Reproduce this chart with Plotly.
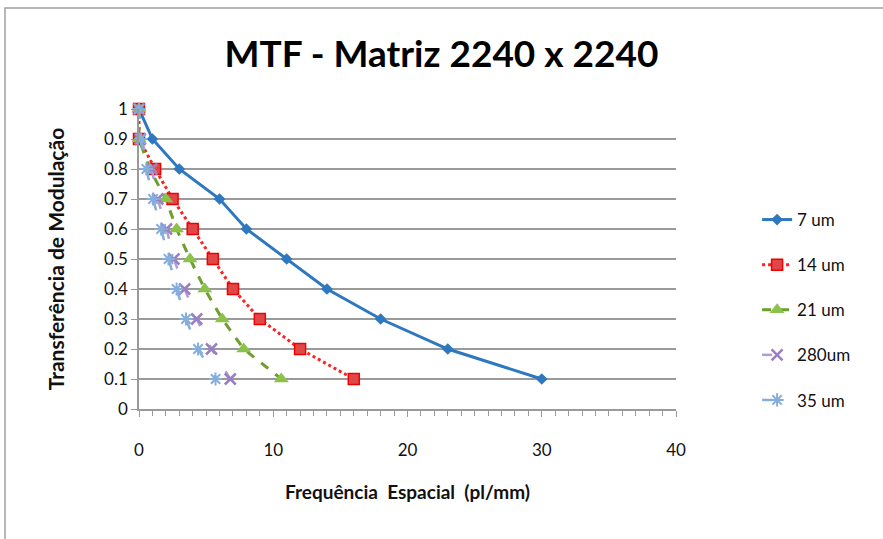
import plotly.graph_objects as go

# MTF values (modulation transfer) per spatial frequency for each pixel size
mtf_levels = [1.0, 0.9, 0.8, 0.7, 0.6, 0.5, 0.4, 0.3, 0.2, 0.1]

freq_7um = [0, 1, 3, 6, 8, 11, 14, 18, 23, 30]
freq_14um = [0, 0, 1.2, 2.5, 4, 5.5, 7, 9, 12, 16]
freq_21um = [0, 0, 0.8, 2, 2.8, 3.8, 4.9, 6.2, 7.8, 10.6]
freq_280um = [0, 0.1, 0.95, 1.4, 2.05, 2.6, 3.4, 4.3, 5.4, 6.8]
freq_35um = [0, 0.15, 0.55, 1.05, 1.65, 2.2, 2.8, 3.5, 4.4, 5.7]

series_names = ["7 um", "14 um", "21 um", "280um", "35 um"]

FONT = "Lato"

fig = go.Figure()

fig.add_trace(go.Scatter(
    x=freq_7um, y=mtf_levels, name=series_names[0], legendgroup="a",
    mode="lines+markers", cliponaxis=False,
    line=dict(color="#2E78C0", width=3),
    marker=dict(symbol="diamond", size=9, color="#2E78C0"),
))
fig.add_trace(go.Scatter(
    x=freq_14um, y=mtf_levels, name=series_names[1], legendgroup="b",
    mode="lines+markers", cliponaxis=False,
    line=dict(color="#FF2020", width=3, dash="dot"),
    marker=dict(symbol="square", size=11, color="#E04848",
                line=dict(color="#F00000", width=1.5)),
))
fig.add_trace(go.Scatter(
    x=freq_21um, y=mtf_levels, name=series_names[2], legendgroup="c",
    mode="lines+markers", cliponaxis=False,
    line=dict(color="#6E9E2E", width=3, dash="dash"),
    marker=dict(symbol="triangle-up", size=13, color="#8BC34A"),
))
fig.add_trace(go.Scatter(
    x=freq_280um, y=mtf_levels, name=series_names[3], legendgroup="d",
    mode="lines+markers", cliponaxis=False,
    line=dict(color="#B09CD0", width=2.5, dash="10px,21px"),
    marker=dict(symbol="x-thin", size=11, line=dict(color="#9B7FC4", width=2.5)),
))
fig.add_trace(go.Scatter(
    x=freq_35um, y=mtf_levels, name=series_names[4], legendgroup="e",
    mode="lines+markers", cliponaxis=False,
    line=dict(color="#86AEDC", width=2.5, dash="10px,21px"),
    marker=dict(symbol="asterisk-open", size=11, line=dict(color="#22B8D8", width=2)),
))

fig.update_layout(
    width=883, height=539,
    paper_bgcolor="white", plot_bgcolor="white",
    margin=dict(l=139, r=207, t=109, b=130),
    font=dict(family=FONT, color="#111111", size=17),
    title=dict(text="<b>MTF - Matriz 2240 x 2240</b>", x=0.5, xanchor="center",
               xref="container", y=0.9, yanchor="middle",
               font=dict(family=FONT, size=37, color="#000000")),
    xaxis=dict(
        range=[0, 40], tickvals=[0, 10, 20, 30, 40],
        showgrid=False, zeroline=False,
        showline=True, linecolor="#9A9A9A", linewidth=1.5,
        ticks="outside", ticklen=6, tickcolor="#9A9A9A",
        minor=dict(dtick=1, ticks="outside", ticklen=5, tickcolor="#9A9A9A"),
        tickfont=dict(size=17, color="#111111"),
        ticklabelstandoff=19,
        title=dict(text="<b>Frequência\u00a0 Espacial\u00a0 (pl/mm)</b>",
                   font=dict(size=19, color="#111111"), standoff=27),
    ),
    yaxis=dict(
        range=[0, 1], dtick=0.1,
        showgrid=True, gridcolor="#9A9A9A", gridwidth=1.5,
        zeroline=False,
        showline=True, linecolor="#9A9A9A", linewidth=1.5,
        ticks="outside", ticklen=6, tickcolor="#9A9A9A",
        tickfont=dict(size=17, color="#111111"),
        tickformat="~g",
        title=dict(text="<b>Transferência de Modulação</b>",
                   font=dict(size=21, color="#111111"), standoff=34),
    ),
    legend=dict(
        x=1.151, y=0.69, xanchor="left", yanchor="top",
        font=dict(size=17, color="#111111"),
        tracegroupgap=20, bgcolor="rgba(0,0,0,0)",
    ),
    shapes=[dict(
        type="rect", xref="paper", yref="paper",
        x0=(5 - 139) / 537, x1=1 + (900 - 676) / 537,
        y0=-(560 - 409) / 300, y1=1 + (109 - 8) / 300,
        line=dict(color="#A0A0A0", width=1.5), fillcolor="rgba(0,0,0,0)",
        layer="below",
    )],
)

fig.write_html("out.html")
